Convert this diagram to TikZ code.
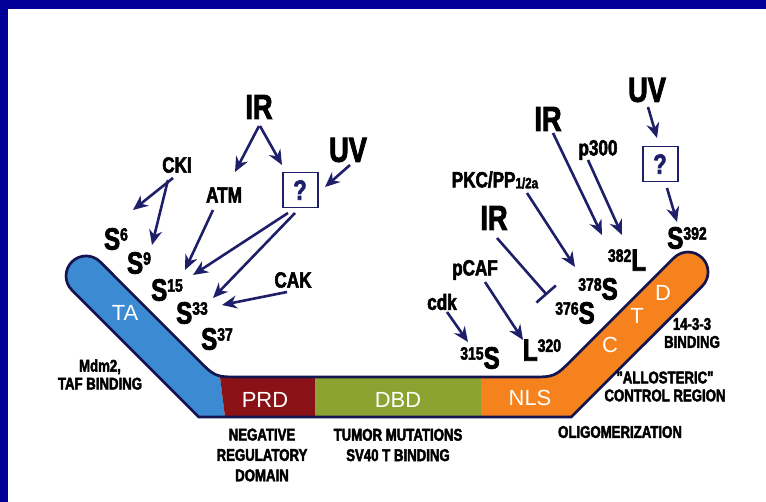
\documentclass[tikz,border=0pt]{standalone}
\usepackage{fontspec}
\setmainfont{Liberation Sans}
\newfontfamily\lab[FakeStretch=0.78, FakeBold=2.5, UprightFont={* Bold}]{Liberation Sans}
\usetikzlibrary{arrows.meta,calc}
\definecolor{framecol}{RGB}{0,0,153}
\definecolor{navy}{RGB}{30,30,105}
\definecolor{tablue}{RGB}{60,138,210}
\definecolor{prdred}{RGB}{138,18,22}
\definecolor{dbdgreen}{RGB}{140,163,50}
\definecolor{orng}{RGB}{246,130,30}
\definecolor{outl}{RGB}{20,20,80}
\newcommand\supnum[1]{\raisebox{9pt}{\fontsize{18}{18}\selectfont #1}}
\newcommand\bandpath{(198.8,417) -- (71.9,290.1) arc[start angle=135,end angle=315,radius=20] -- (197.5,359.3) .. controls (215.2,377) .. (240,377) -- (530,377) .. controls (554.7,377) .. (572.4,359.3) -- (673.9,257.9) arc[start angle=225,end angle=405,radius=20] -- (571.3,417) -- cycle}
\tikzset{
 lbl/.style={inner sep=0pt, text=black, font=\lab\fontsize{22}{22}\selectfont},
 big/.style={inner sep=0pt, text=black, font=\lab\fontsize{35}{35}\selectfont},
 sml/.style={inner sep=0pt, align=center, text=black, font=\lab\fontsize{17}{18}\selectfont},
 smlw/.style={inner sep=0pt, align=center, text=black, font=\lab\fontsize{17}{20.5}\selectfont},
 dom/.style={inner sep=0pt, text=white, font=\fontsize{22}{22}\selectfont},
 site/.style={inner sep=0pt, text=black, font=\lab\fontsize{31}{31}\selectfont},
 qbox/.style={draw=navy, line width=2pt, minimum width=35bp, minimum height=35bp, inner sep=0pt, text=navy, font=\lab\fontsize{28}{28}\selectfont},
 arr/.style={draw=navy, line width=2.6pt, -{Stealth[length=15pt,width=13pt]}},
 inh/.style={draw=navy, line width=2.6pt, -{Bar[width=26pt]}},
}
\begin{document}
\begin{tikzpicture}[x=1bp,y=-1bp]
\useasboundingbox (0,0) rectangle (766,502);
\fill[white] (0,0) rectangle (766,502);
\fill[framecol] (0,0) rectangle (766,9);
\fill[framecol] (0,0) rectangle (8,502);

% protein band
\begin{scope}
 \clip \bandpath;
 \fill[tablue] (0,0) -- (218,0) -- (218,360) -- (220,377) -- (225,417) -- (226,440) -- (0,440) -- cycle;
 \fill[prdred] (218,0) -- (315,0) -- (315,440) -- (226,440) -- (225,417) -- (220,377) -- (218,360) -- cycle;
 \fill[dbdgreen] (315,0) rectangle (481,440);
 \fill[orng] (481,0) rectangle (766,440);
\end{scope}
\draw[outl, line width=2.7pt] \bandpath;

% domain labels
\node[dom] (ta) at (125,313) {TA};
\node[dom] (prd) at (265,400) {PRD};
\node[dom] (dbd) at (398,400) {DBD};
\node[dom] (nls) at (530,398) {NLS};
\node[dom] (cc) at (610,345) {C};
\node[dom] (tt) at (637,316) {T};
\node[dom] (dd) at (663,293) {D};

% annotations
\node[sml] (mdm) at (100,374.5) {Mdm2,\\TAF BINDING};
\node[smlw] (neg) at (262,455) {NEGATIVE\\REGULATORY\\DOMAIN};
\node[smlw] (tum) at (398,445) {TUMOR MUTATIONS\\SV40 T BINDING};
\node[sml] (olig) at (620,432) {OLIGOMERIZATION};
\node[sml] (bind) at (692,333) {14-3-3\\BINDING};
\node[sml] (allo) at (665,386.5) {"ALLOSTERIC"\\CONTROL REGION};

% left side
\node[big] (ir1) at (259,107) {IR};
\node[big] (uv1) at (348,150) {UV};
\node[qbox] (q1) at (300,190) {?};
\node[lbl] (cki) at (177,165) {CKI};
\node[lbl] (atm) at (224,195) {ATM};
\node[lbl] (cak) at (293,280) {CAK};
\node[site] (s6) at (116,239) {S\supnum{6}};
\node[site] (s9) at (139,263) {S\supnum{9}};
\node[site] (s15) at (167,290) {S\supnum{15}};
\node[site] (s33) at (192,313) {S\supnum{33}};
\node[site] (s37) at (217,339) {S\supnum{37}};

% right side
\node[big] (uv2) at (647,90) {UV};
\node[qbox] (q2) at (660,164) {?};
\node[site] (s392) at (687,238) {S\supnum{392}};
\node[big] (ir2) at (548,119) {IR};
\node[lbl] (p300) at (598,150) {p300};
\node[site] (l382) at (627,260) {\supnum{382}L};
\node[lbl] (pkc) at (495,180) {PKC/PP{\fontsize{15}{15}\selectfont\raisebox{-1pt}{1/2a}}};
\node[big] (ir3) at (494,218) {IR};
\node[site] (s378) at (598,289) {\supnum{378}S};
\node[site] (s376) at (575,313) {\supnum{376}S};
\node[lbl] (pcaf) at (475,270) {pCAF};
\node[site] (l320) at (542,350) {L\supnum{320}};
\node[lbl] (cdk) at (442,302) {cdk};
\node[site] (s315) at (480,358) {\supnum{315}S};

% connectors left
\draw[arr] ($(ir1)+(0,19)$) -- ($(atm)+(11,-23)$);
\draw[arr] ($(ir1)+(1,19)$) -- ($(q1)+(-18,-25)$);
\draw[arr] ($(uv1)+(2,15)$) -- ($(q1)+(25,-3)$);
\draw[arr] ($(cki)+(-4,13)$) -- ($(s6)+(17,-29)$);
\draw[arr] ($(cki)+(-9,15)$) -- ($(s9)+(13,-18)$);
\draw[arr] ($(atm)+(-11,15)$) -- ($(s15)+(18,-20)$);
\draw[arr] ($(q1)+(-12,23)$) -- ($(s15)+(26,-15)$);
\draw[arr] ($(q1)+(-5,23)$) -- ($(s33)+(21,-15)$);
\draw[arr] ($(cak)+(-6,12)$) -- ($(s33)+(30,-8)$);

% connectors right
\draw[arr] ($(uv2)+(1,17)$) -- ($(q2)+(-3,-26)$);
\draw[arr] ($(q2)+(7,24)$) -- ($(s392)+(-10,-16)$);
\draw[arr] ($(ir2)+(5,14)$) -- ($(l382)+(-25,-25)$);
\draw[arr] ($(p300)+(-10,10)$) -- ($(l382)+(-5,-25)$);
\draw[arr] ($(pkc)+(32,13)$) -- ($(s378)+(-23,-22)$);
\draw[inh] ($(ir3)+(3,20)$) -- ($(s376)+(-28,-18)$);
\draw[arr] ($(pcaf)+(10,12)$) -- ($(l320)+(-19,-10)$);
\draw[arr] ($(cdk)+(5,10)$) -- ($(s315)+(-12,-16)$);
\end{tikzpicture}
\end{document}
